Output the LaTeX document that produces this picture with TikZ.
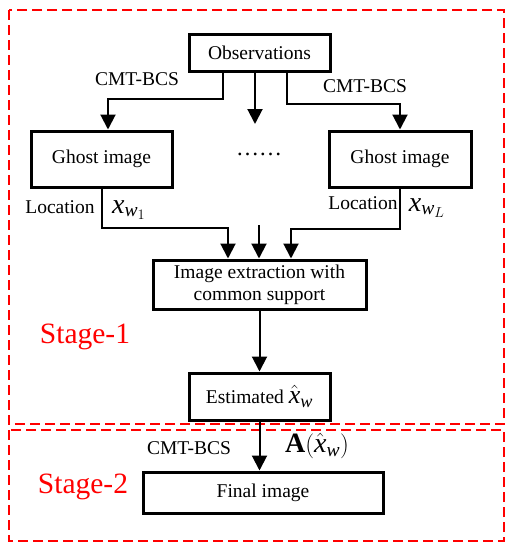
\documentclass[tikz,border=0pt]{standalone}
\usepackage{fontspec}
\setmainfont{Liberation Serif}
\usetikzlibrary{arrows.meta}
\definecolor{stagered}{HTML}{FF0000}

\begin{document}
\begin{tikzpicture}[x=1pt,y=-1pt,
    block/.style={draw,line width=3pt,inner sep=0pt,align=center,
      font=\fontsize{19.5}{22}\selectfont},
    arr/.style={line width=2pt,-{Triangle[width=15pt,length=15pt]}},
    lbl/.style={font=\fontsize{19.5}{22}\selectfont},
    mlbl/.style={font=\fontsize{28}{32}\selectfont},
    stagebox/.style={stagered,line width=1.6pt,dash pattern=on 10pt off 5pt},
    stagelbl/.style={stagered,font=\fontsize{29.5}{34}\selectfont}]
    \useasboundingbox (0,0) rectangle (505,542);
    % the two stages
    \draw [stagebox] (9,10) rectangle (504,424);
    \draw [stagebox] (9,430) rectangle (504,541);
    \node [stagelbl] (s1) at (85,337) {Stage-1};
    \node [stagelbl] (s2) at (83,487) {Stage-2};
    % blocks
    \node [block,minimum width=141pt,minimum height=37pt] (obs) at (259.5,52.5) {Observations};
    \node [block,minimum width=141pt,minimum height=56pt] (ghostL) at (101.5,159) {Ghost image};
    \node [block,minimum width=142pt,minimum height=56pt] (ghostR) at (400,159) {Ghost image};
    \node [font=\fontsize{23}{26}\selectfont] (dots) at (259,154) {\dots\dots};
    \node [block,minimum width=213pt,minimum height=49pt] (extract) at (259.5,284.5) {Image extraction with\\common support};
    \node [block,minimum width=141pt,minimum height=47pt] (est) at (259.5,396.5)
      {Estimated {\fontsize{26}{28}\selectfont$\hat{\mathit{x}}_{\mathit{w}}$}};
    \node [block,minimum width=240pt,minimum height=41pt] (final) at (263,492.5) {Final image};
    % labels
    \node [lbl] (cmtL) at (137,79) {CMT-BCS};
    \node [lbl] (cmtR) at (365,86) {CMT-BCS};
    \node [lbl] (locL) at (60,207) {Location};
    \node [mlbl] (xw1) at (129,210) {$\mathit{x}_{\mathit{w}_1}$};
    \node [lbl] (locR) at (363,203) {Location};
    \node [mlbl] (xwL) at (427,208) {$\mathit{x}_{\mathit{w}_L}$};
    \node [lbl] (cmtB) at (189,448) {CMT-BCS};
    \node [mlbl] (Ax) at (317,446) {$\mathbf{A}(\hat{\mathit{x}}_{\mathit{w}})$};
    % connectors
    \coordinate (midtop) at (255,124);
    \coordinate (midbot) at (259,225);
    \draw [arr] ([xshift=-36.5pt]obs.south) -- ++(0,26) -| ([xshift=6.5pt]ghostL.north);
    \draw [arr] ([xshift=-4.5pt]obs.south) -- (midtop);
    \draw [arr] ([xshift=27.5pt]obs.south) -- ++(0,31) -| (ghostR.north);
    \draw [arr] ([xshift=0.5pt]ghostL.south) -- ++(0,39) -| ([xshift=-31.5pt]extract.north);
    \draw [arr] (midbot) -- (midbot |- extract.north);
    \draw [arr] (ghostR.south) -- ++(0,40) -| ([xshift=31.5pt]extract.north);
    \draw [arr] (extract.south) -- (est.north);
    \draw [arr] (est.south) -- (est.south |- final.north);
\end{tikzpicture}
\end{document}
